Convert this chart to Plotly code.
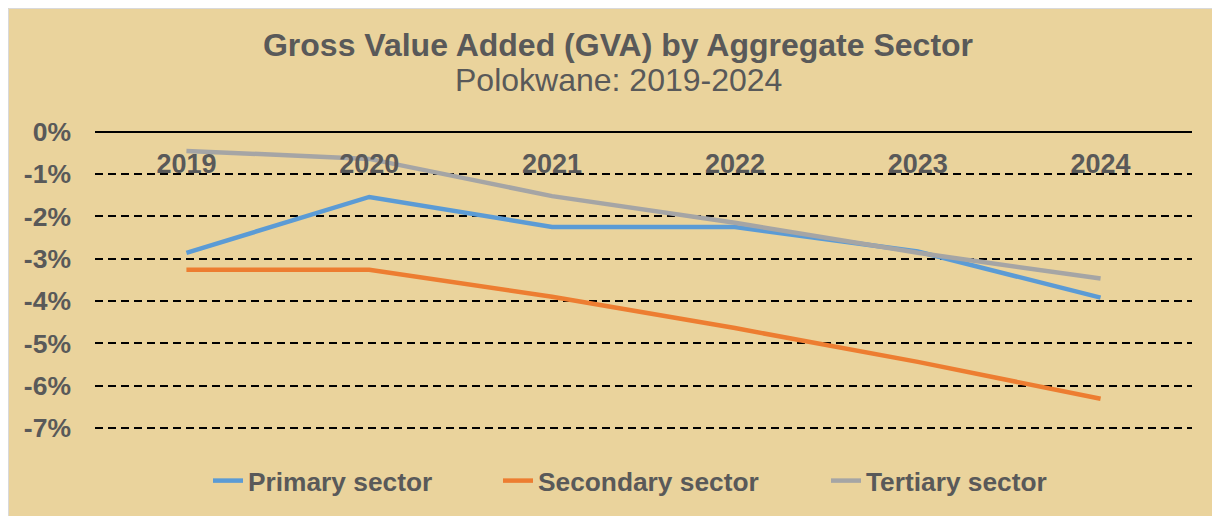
import plotly.graph_objects as go

years = ["2019", "2020", "2021", "2022", "2023", "2024"]
primary = [-0.0286, -0.0154, -0.0225, -0.0225, -0.0283, -0.0392]
secondary = [-0.0326, -0.0326, -0.0390, -0.0464, -0.0544, -0.0631]
tertiary = [-0.0045, -0.0064, -0.0152, -0.0215, -0.0286, -0.0347]
y_ticks = [0, -0.01, -0.02, -0.03, -0.04, -0.05, -0.06, -0.07]
y_tick_labels = ["0%", "-1%", "-2%", "-3%", "-4%", "-5%", "-6%", "-7%"]

W, H = 1220, 516
L, R, T, B = 87, 36, 123, 94
pw, ph = W - L - R, H - T - B

def px_x(p):
    return (p - L) / pw

def px_y(p):
    return (H - B - p) / ph

TXT = "#595959"
FONT = "Liberation Sans, Arial, sans-serif"
PARCH = "#EAD39C"

# legend text start positions (figure px)
series = [("Primary sector", primary, "#5B9BD5", "legend", 240),
          ("Secondary sector", secondary, "#ED7D31", "legend2", 530),
          ("Tertiary sector", tertiary, "#A5A5A5", "legend3", 858)]

fig = go.Figure()
for name, vals, col, leg, _ in series:
    fig.add_trace(go.Scatter(x=years, y=vals, name=name, mode="lines",
                             legend=leg,
                             line=dict(color=col, width=4.5)))

legend_font = dict(size=26.3, color=TXT, family=FONT, weight="bold")
legends = {}
for name, vals, col, leg, text_x in series:
    legends[leg] = dict(orientation="h", x=px_x(text_x - 40), xanchor="left",
                        y=px_y(473), yanchor="middle", font=legend_font,
                        bgcolor="rgba(0,0,0,0)")

fig.update_layout(
    width=W, height=H,
    margin=dict(l=L, r=R, t=T, b=B, autoexpand=False),
    paper_bgcolor=PARCH,
    plot_bgcolor="rgba(0,0,0,0)",
    font=dict(family=FONT, color=TXT),
    title=dict(text="<b>Gross Value Added (GVA) by Aggregate Sector</b>",
               x=0.5, xanchor="center", y=1 - 37 / H, yanchor="middle",
               font=dict(size=32, color=TXT, family=FONT)),
    showlegend=True,
    xaxis=dict(type="category", side="bottom", anchor="free", position=1,
               range=[-0.5, 5.5],
               showline=False, automargin=False,
               showgrid=False, ticks="", ticklabelstandoff=14,
               tickfont=dict(size=27, color=TXT, family=FONT, weight="bold")),
    yaxis=dict(range=[-0.0705, 0.0002], tickvals=y_ticks, ticktext=y_tick_labels,
               showgrid=True, gridcolor="black", gridwidth=1.5, automargin=False,
               griddash="8px,5px", zeroline=True, zerolinecolor="black",
               zerolinewidth=1.5, showline=False, ticks="",
               ticklabelstandoff=23,
               tickfont=dict(size=26.5, color=TXT, family=FONT, weight="bold")),
    shapes=[dict(type="rect", xref="paper", yref="paper", layer="below",
                 x0=px_x(0.5), x1=px_x(W + 2), y0=px_y(H + 2), y1=px_y(0.5),
                 fillcolor=PARCH, line=dict(color="#D9D9D9", width=1))],
    annotations=[dict(text="Polokwane: 2019-2024", xref="paper", yref="paper",
                      x=px_x(W / 2), y=px_y(72), xanchor="center", yanchor="middle",
                      showarrow=False,
                      font=dict(size=32, color=TXT, family=FONT))],
    **legends,
)

fig.write_html("out.html")
